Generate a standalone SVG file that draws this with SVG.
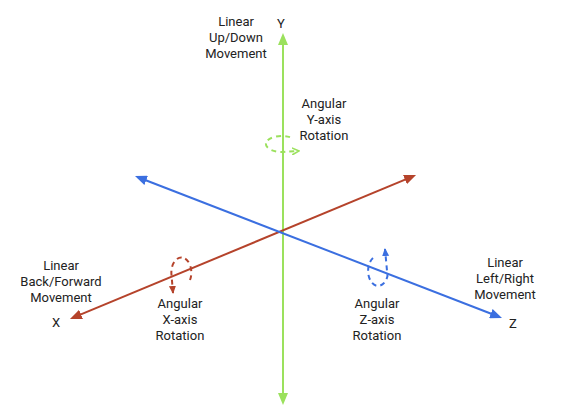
<svg xmlns="http://www.w3.org/2000/svg" width="561" height="419" viewBox="0 0 561 419">
<style>
text{font-family:Roboto,"Liberation Sans",sans-serif;font-size:13px;fill:#222;text-anchor:middle}
.ax{fill:none;stroke-width:2}
.rot{fill:none;stroke-width:2;stroke-dasharray:5 4}
.g{stroke:#9be15d}.r{stroke:#b5432b}.b{stroke:#3b6fe0}
</style>
<defs>
<marker id="ag" markerUnits="userSpaceOnUse" markerWidth="12" markerHeight="10" refX="6" refY="5" orient="auto-start-reverse" viewBox="0 0 12 10"><path d="M0,0 L12,5 L0,10 z" fill="#9be15d"/></marker>
<marker id="ar" markerUnits="userSpaceOnUse" markerWidth="12" markerHeight="10" refX="6" refY="5" orient="auto-start-reverse" viewBox="0 0 12 10"><path d="M0,0 L12,5 L0,10 z" fill="#b5432b"/></marker>
<marker id="ab" markerUnits="userSpaceOnUse" markerWidth="12" markerHeight="10" refX="6" refY="5" orient="auto-start-reverse" viewBox="0 0 12 10"><path d="M0,0 L12,5 L0,10 z" fill="#3b6fe0"/></marker>
<marker id="sg" markerUnits="userSpaceOnUse" markerWidth="8" markerHeight="8" refX="7" refY="4" orient="auto" viewBox="0 0 8 8"><path d="M0,0.5 L7,4 L0,7.5" fill="none" stroke="#9be15d" stroke-width="1.6"/></marker>
<marker id="sr" markerUnits="userSpaceOnUse" markerWidth="8" markerHeight="8" refX="7" refY="4" orient="auto" viewBox="0 0 8 8"><path d="M0,0.5 L8,4 L0,7.5 z" fill="#b5432b"/></marker>
<marker id="sb" markerUnits="userSpaceOnUse" markerWidth="8" markerHeight="8" refX="7" refY="4" orient="auto" viewBox="0 0 8 8"><path d="M0,0.5 L8,4 L0,7.5 z" fill="#3b6fe0"/></marker>
</defs>
<g id="connectors">
<line id="y-axis" class="ax g" x1="283" y1="39" x2="283" y2="399" marker-start="url(#ag)" marker-end="url(#ag)"/>
<line id="x-axis" class="ax r" x1="75.5" y1="316.7" x2="410.5" y2="177.3" marker-start="url(#ar)" marker-end="url(#ar)"/>
<line id="z-axis" class="ax b" x1="140.6" y1="178.2" x2="496.4" y2="315.8" marker-start="url(#ab)" marker-end="url(#ab)"/>
<path id="y-rot" class="rot g" d="M290,137.1 A16,8 0 1,0 286.1,151.7 L299,151" marker-end="url(#sg)"/>
<path id="x-rot" class="rot r" d="M190,280 A10,15 0 1,0 171.6,276 L173,293" marker-end="url(#sr)"/>
<path id="z-rot" class="rot b" d="M373,258 A10,15 0 1,0 387.5,276 L385,249" marker-end="url(#sb)"/>
</g>
<g id="y-label"><text x="281" y="28">Y</text></g>
<g id="y-linear"><text x="236" y="26">Linear</text><text x="236" y="42">Up/Down</text><text x="236" y="58">Movement</text></g>
<g id="y-angular"><text x="324" y="108">Angular</text><text x="324" y="124">Y-axis</text><text x="324" y="140">Rotation</text></g>
<g id="x-label"><text x="56" y="327">X</text></g>
<g id="x-linear"><text x="61" y="270">Linear</text><text x="61" y="286">Back/Forward</text><text x="61" y="302">Movement</text></g>
<g id="x-angular"><text x="180" y="308">Angular</text><text x="180" y="324">X-axis</text><text x="180" y="340">Rotation</text></g>
<g id="z-label"><text x="513" y="328">Z</text></g>
<g id="z-linear"><text x="505" y="267">Linear</text><text x="505" y="283">Left/Right</text><text x="505" y="299">Movement</text></g>
<g id="z-angular"><text x="377" y="308">Angular</text><text x="377" y="324">Z-axis</text><text x="377" y="340">Rotation</text></g>
</svg>
